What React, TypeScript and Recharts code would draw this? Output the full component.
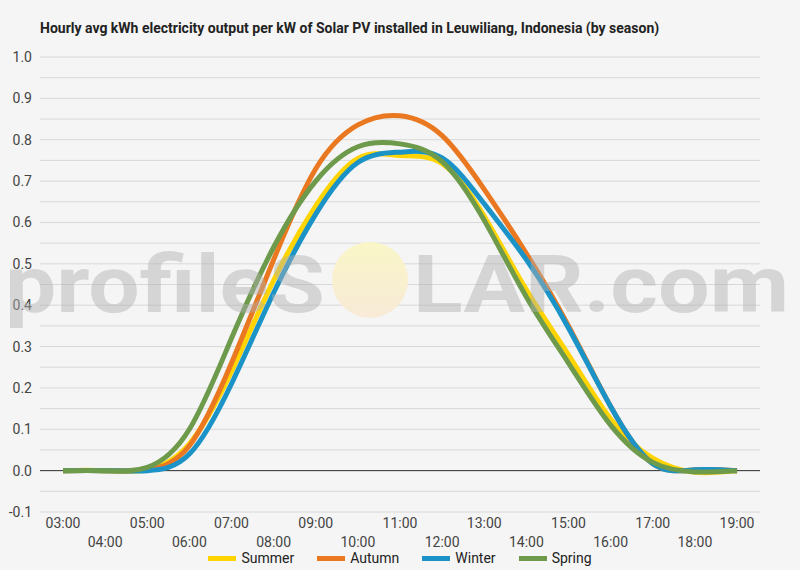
import React from 'react'
import { LineChart, Line, XAxis, YAxis, CartesianGrid, ReferenceLine } from 'recharts'

const hours = [
  '03:00', '04:00', '05:00', '06:00', '07:00', '08:00', '09:00', '10:00', '11:00',
  '12:00', '13:00', '14:00', '15:00', '16:00', '17:00', '18:00', '19:00',
]

// hourly average kWh per kW installed
const summer = [0, 0, 0.002, 0.065, 0.24, 0.46, 0.64, 0.755, 0.762, 0.742, 0.615, 0.437, 0.28, 0.125, 0.03, -0.004, 0]
const autumn = [0, 0, 0.002, 0.06, 0.26, 0.51, 0.73, 0.836, 0.858, 0.81, 0.68, 0.525, 0.35, 0.155, 0.017, 0.002, 0]
const winter = [0, 0, 0, 0.04, 0.21, 0.43, 0.62, 0.745, 0.77, 0.756, 0.645, 0.51, 0.345, 0.155, 0.017, 0.002, 0]
const spring = [0, 0, 0.008, 0.1, 0.32, 0.54, 0.7, 0.783, 0.79, 0.747, 0.605, 0.42, 0.26, 0.11, 0.02, -0.003, 0]

const yTicks = [
  -0.1, -0.05, 0, 0.05, 0.1, 0.15, 0.2, 0.25, 0.3, 0.35, 0.4, 0.45, 0.5,
  0.55, 0.6, 0.65, 0.7, 0.75, 0.8, 0.85, 0.9, 0.95, 1.0,
]

const seasons = [
  { key: 'Summer', color: '#FFD400', values: summer },
  { key: 'Autumn', color: '#E97820', values: autumn },
  { key: 'Winter', color: '#1B93C6', values: winter },
  { key: 'Spring', color: '#6E9A4C', values: spring },
]

const data = hours.map((hour, i) => {
  const row: Record<string, string | number> = { hour }
  seasons.forEach(s => { row[s.key] = s.values[i] })
  return row
})

const fmtY = (v: number) => {
  const tenths = v * 10
  return Math.abs(tenths - Math.round(tenths)) < 1e-6 ? v.toFixed(1) : ''
}

function HourTick({ x, y, payload, index }: any) {
  const row = index % 2 === 0 ? 16 : 35
  return (
    <text x={x} y={y + row} textAnchor="middle" fontSize={14} fill="#444">
      {payload.value}
    </text>
  )
}

export default function App() {
  return (
    <div
      style={{
        position: 'absolute', left: 0, top: 0, width: 800, height: 570,
        background: '#f5f5f5', fontFamily: 'Roboto, sans-serif',
      }}
    >
      <div
        style={{
          position: 'absolute', left: 40, top: 20, fontSize: 14, lineHeight: '16px',
          fontWeight: 'bold', color: '#222',
        }}
      >
        Hourly avg kWh electricity output per kW of Solar PV installed in Leuwiliang, Indonesia (by season)
      </div>

      <LineChart width={800} height={570} data={data} margin={{ top: 57, right: 40, left: 0, bottom: 0 }}>
        <CartesianGrid vertical={false} stroke="#d8d8d8" />
        <XAxis
          dataKey="hour"
          interval={0}
          padding={{ left: 23, right: 23 }}
          axisLine={false}
          tickLine={false}
          tickSize={0}
          tickMargin={0}
          height={58}
          tick={<HourTick />}
        />
        <YAxis
          type="number"
          domain={[-0.1, 1.0]}
          ticks={yTicks}
          interval={0}
          tickFormatter={fmtY}
          axisLine={false}
          tickLine={false}
          width={40}
          tick={{ fontSize: 14, fill: '#444' }}
        />
        <ReferenceLine y={0} stroke="#333" />
        {seasons.map(s => (
          <Line
            key={s.key}
            type="natural"
            dataKey={s.key}
            stroke={s.color}
            strokeWidth={5}
            dot={false}
            activeDot={false}
            isAnimationActive={false}
          />
        ))}
      </LineChart>

      {/* watermark */}
      <svg
        width={800}
        height={570}
        style={{ position: 'absolute', left: 0, top: 0, pointerEvents: 'none' }}
      >
        <defs>
          <linearGradient id="sun" x1="0" y1="0" x2="0" y2="1">
            <stop offset="0%" stopColor="#f9f6c6" />
            <stop offset="100%" stopColor="#f8ead8" />
          </linearGradient>
        </defs>
        <circle cx={370} cy={280} r={38} fill="url(#sun)" />
        <g fill="#b0b0b0" opacity={0.45} fontSize={80} fontWeight="bold" fontFamily="Roboto, sans-serif">
          <text x={5} y={312} textLength={320} lengthAdjust="spacingAndGlyphs">profileS</text>
          <text x={413} y={312} textLength={376} lengthAdjust="spacingAndGlyphs">LAR.com</text>
        </g>
      </svg>

      <div
        style={{
          position: 'absolute', left: 0, top: 549, width: 800, display: 'flex',
          justifyContent: 'center', gap: 23, fontSize: 14, lineHeight: '18px', color: '#222',
        }}
      >
        {seasons.map(s => (
          <div key={s.key} style={{ display: 'flex', alignItems: 'center' }}>
            <div style={{ width: 28, height: 5, background: s.color, marginRight: 5 }} />
            <span>{s.key}</span>
          </div>
        ))}
      </div>
    </div>
  )
}
